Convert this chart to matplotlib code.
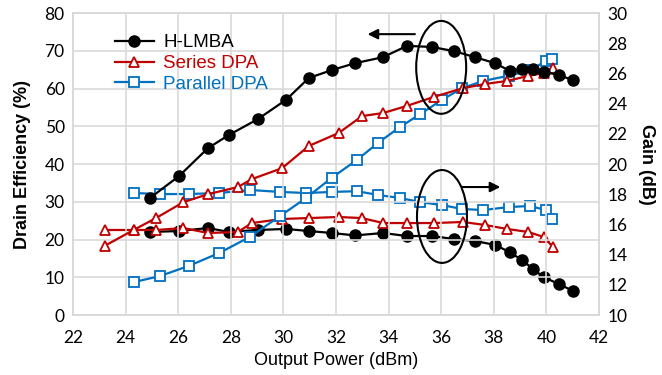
import matplotlib
matplotlib.use("Agg")
import matplotlib.pyplot as plt
from matplotlib.patches import Ellipse

# ---------------- data ----------------
hlmba_x = [24.93, 26.03, 27.13, 27.93, 29.03, 30.1, 30.97, 31.85, 32.72, 33.79, 34.7,
           35.65, 36.49, 37.29, 38.05, 38.6, 39.07, 39.49, 39.9, 40.48, 41.0]
hlmba_eff = [31.0, 36.8, 44.2, 47.7, 51.9, 57.0, 62.8, 64.9, 66.7, 68.3, 71.3,
             71.0, 69.9, 68.3, 66.7, 64.7, 65.2, 65.2, 64.4, 63.6, 62.2]
hlmba_gain = [15.5, 15.56, 15.76, 15.5, 15.63, 15.7, 15.56, 15.43, 15.27, 15.43, 15.23,
              15.23, 15.03, 14.9, 14.64, 14.17, 13.64, 13.05, 12.5, 12.05, 11.6]

sdpa_x = [23.2, 24.3, 25.16, 26.2, 27.13, 28.27, 28.8, 29.95, 30.97, 32.1, 32.99,
          33.79, 34.7, 35.73, 36.83, 37.67, 38.5, 39.3, 39.9, 40.25]
sdpa_eff = [18.3, 22.5, 25.7, 29.9, 32.0, 33.9, 36.0, 38.9, 44.8, 48.2, 52.7,
            53.5, 55.4, 57.8, 60.1, 61.2, 62.0, 63.3, 64.1, 65.4]
sdpa_gain = [15.63, 15.63, 15.63, 15.76, 15.43, 15.5, 16.09, 16.36, 16.42, 16.49, 16.42,
             16.09, 16.09, 16.09, 16.16, 15.96, 15.7, 15.5, 15.17, 14.5]

pdpa_x = [24.3, 25.3, 26.4, 27.55, 28.73, 29.87, 30.86, 31.85, 32.8, 33.6, 34.43,
          35.2, 36.03, 36.8, 37.6, 38.57, 39.37, 39.98, 40.2]
pdpa_eff = [8.7, 10.3, 13.0, 16.4, 20.7, 26.2, 31.0, 36.4, 41.1, 45.6, 49.8,
            53.2, 57.0, 60.1, 62.0, 63.4, 64.8, 67.3, 67.9]
pdpa_gain = [18.08, 18.01, 18.01, 18.08, 18.28, 18.15, 18.08, 18.15, 18.2, 17.95, 17.75,
             17.48, 17.28, 17.02, 16.95, 17.15, 17.22, 16.95, 16.36]

labels = ["H-LMBA", "Series DPA", "Parallel DPA"]
x_ticks = [22, 24, 26, 28, 30, 32, 34, 36, 38, 40, 42]
eff_ticks = [0, 10, 20, 30, 40, 50, 60, 70, 80]
gain_ticks = [10, 12, 14, 16, 18, 20, 22, 24, 26, 28, 30]

BLACK = "#000000"
RED = "#C00000"
BLUE = "#0070C0"
GRID = "#D9D9D9"

tick_font = "Lato"
txt_font = "Liberation Sans"

fig = plt.figure(figsize=(6.62, 3.75), dpi=100)
ax = fig.add_axes([0.1103, 0.16, 0.7945, 0.8053])
ax2 = ax.twinx()

lw = 1.6
# efficiency (left axis)
lp, = ax.plot(pdpa_x, pdpa_eff, color=BLUE, lw=lw, marker="s", ms=6.5,
              mfc="white", mec=BLUE, mew=1.3, label=labels[2], zorder=3)
ls, = ax.plot(sdpa_x, sdpa_eff, color=RED, lw=lw, marker="^", ms=7.5,
              mfc="white", mec=RED, mew=1.3, label=labels[1], zorder=4)
lh, = ax.plot(hlmba_x, hlmba_eff, color=BLACK, lw=lw, marker="o", ms=8,
              mfc=BLACK, mec=BLACK, label=labels[0], zorder=5)

# gain (right axis)
ax2.plot(hlmba_x, hlmba_gain, color=BLACK, lw=lw, marker="o", ms=8,
         mfc=BLACK, mec=BLACK, zorder=3)
ax2.plot(sdpa_x, sdpa_gain, color=RED, lw=lw, marker="^", ms=7.5,
         mfc="white", mec=RED, mew=1.3, zorder=4)
ax2.plot(pdpa_x, pdpa_gain, color=BLUE, lw=lw, marker="s", ms=6.5,
         mfc="white", mec=BLUE, mew=1.3, zorder=5)

ax.set_xlim(22, 42)
ax.set_ylim(0, 80)
ax2.set_ylim(10, 30)
ax.set_xticks(x_ticks)
ax.set_yticks(eff_ticks)
ax2.set_yticks(gain_ticks)

ax.grid(True, color=GRID, lw=1.2, zorder=0)
ax.set_axisbelow(True)
for a in (ax, ax2):
    for s in a.spines.values():
        s.set_color(GRID)
        s.set_linewidth(1.2)
    a.tick_params(length=0, labelsize=12.5, pad=6, colors="black")
    for t in a.get_xticklabels() + a.get_yticklabels():
        t.set_fontfamily(tick_font)
ax.tick_params(axis="x", pad=11)

ax.set_xlabel("Output Power (dBm)", fontsize=13, family=txt_font, labelpad=4)
ax.set_ylabel("Drain Efficiency (%)", fontsize=13, family=txt_font,
              fontweight="bold", labelpad=10)
ax2.set_ylabel("Gain (dB)", fontsize=13, family=txt_font, fontweight="bold",
               rotation=-90, labelpad=20)

# annotations: ellipses and arrows
ax.add_patch(Ellipse((36.0, 65.6), 1.9, 24.6, fill=False, ec="black", lw=1.5, zorder=6))
ax.add_patch(Ellipse((36.03, 26.1), 1.9, 24.6, fill=False, ec="black", lw=1.5, zorder=6))
ax.annotate("", xy=(33.2, 74.4), xytext=(35.0, 74.4),
            arrowprops=dict(arrowstyle="-|>", color="black", lw=1.5,
                            mutation_scale=15, shrinkA=0, shrinkB=0), zorder=6)
ax.annotate("", xy=(38.25, 33.9), xytext=(36.8, 33.9),
            arrowprops=dict(arrowstyle="-|>", color="black", lw=1.5,
                            mutation_scale=15, shrinkA=0, shrinkB=0), zorder=6)

ax.set_zorder(ax2.get_zorder() + 1)
ax.patch.set_visible(False)

leg = ax.legend(handles=[lh, ls, lp], loc="upper left", bbox_to_anchor=(0.065, 0.955),
                frameon=False, prop={"family": txt_font, "size": 13.5},
                handlelength=2.1, handletextpad=0.5, labelspacing=0.2,
                borderaxespad=0)
leg.get_texts()[1].set_color(RED)
leg.get_texts()[2].set_color(BLUE)

fig.savefig("out.png", dpi=100)
